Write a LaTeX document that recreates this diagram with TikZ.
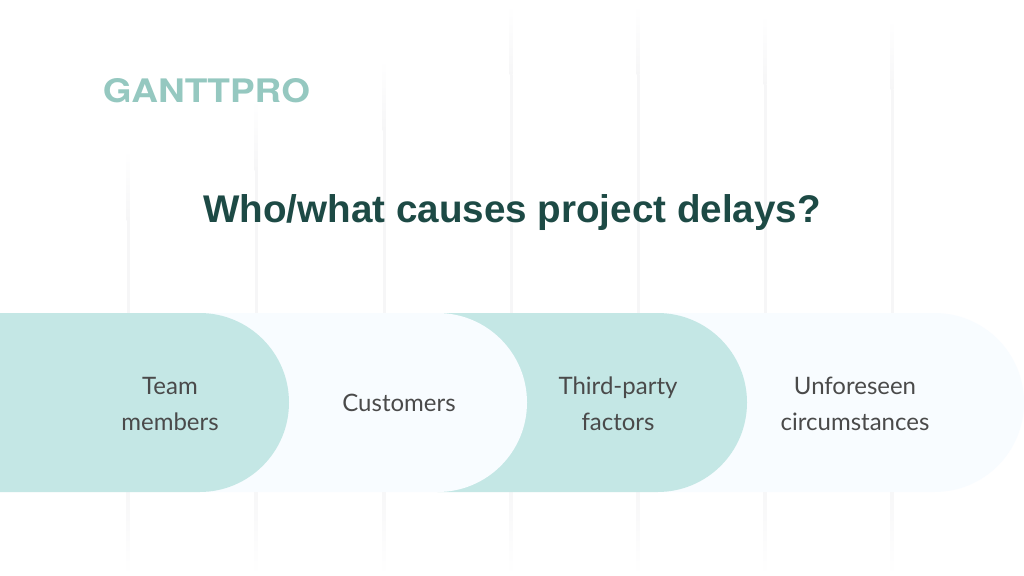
\documentclass[tikz,border=0pt]{standalone}
\usepackage{fontspec}
\setmainfont{Lato}
\newfontfamily\titlefont{Liberation Sans}
\newfontfamily\logofont{TeX Gyre Heros}
\definecolor{teal}{HTML}{C4E7E5}
\definecolor{pale}{HTML}{F8FCFF}
\definecolor{titlecol}{HTML}{1D4A45}
\definecolor{labelcol}{HTML}{4A4A4A}
\definecolor{logocol}{HTML}{95C8C0}
\definecolor{gridcol}{HTML}{F6F6F7}
\tikzset{
  x=1pt,y=-1pt,
  label text/.style={font=\fontsize{24}{36}\selectfont,text=labelcol,align=center,inner sep=0pt},
}
\newcommand{\gridbar}[3]{%
  \shade[top color=white,bottom color=gridcol] (#1-1.5,#2) rectangle (#1+1.5,#2+70);
  \fill[gridcol] (#1-1.5,#2+70) rectangle (#1+1.5,#3-90);
  \shade[top color=gridcol,bottom color=white] (#1-1.5,#3-90) rectangle (#1+1.5,#3);
}
\newcommand{\pillshape}[3]{%
  \fill[#1] (#2,313) -- (#3-89.5,313) arc[start angle=-90,end angle=90,radius=89.5] -- (#2,492) -- cycle;
}
\begin{document}
\begin{tikzpicture}
\useasboundingbox (0,0) rectangle (1024,575);
\fill[white] (0,0) rectangle (1024,575);
\gridbar{128}{150}{575}
\gridbar{256}{100}{575}
\gridbar{384}{60}{575}
\gridbar{511}{5}{575}
\gridbar{638}{5}{575}
\gridbar{765}{15}{575}
\gridbar{892}{20}{575}
\pillshape{pale}{657.5}{1024}
\pillshape{teal}{437.5}{747}
\pillshape{pale}{199.5}{527}
\pillshape{teal}{0}{289}
\node[anchor=center,inner sep=0pt] (logo) at (206.5,91) {\color{logocol}\resizebox{207pt}{24pt}{\logofont\bfseries GANTTPRO}};
\node[anchor=base,inner sep=0pt,text=titlecol] (title) at (512,222) {\titlefont\bfseries\fontsize{38.6}{44}\selectfont Who/what causes project delays?};
\node[label text] (a) at (170,403.5) {Team\\members};
\node[label text] (b) at (399,403) {Customers};
\node[label text] (c) at (618,403.5) {Third-party\\factors};
\node[label text] (d) at (855,403.5) {Unforeseen\\circumstances};
\end{tikzpicture}
\end{document}
